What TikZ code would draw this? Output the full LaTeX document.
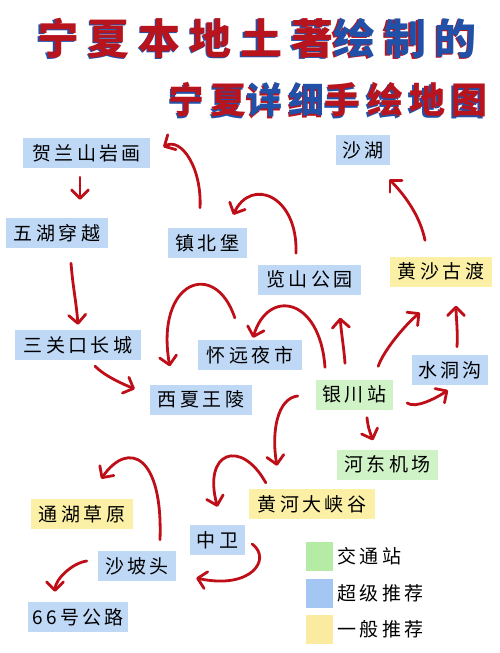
\documentclass[tikz,border=0pt]{standalone}
\usepackage{fontspec}
\usetikzlibrary{arrows.meta,calc}
\newfontfamily\cjk[LetterSpace=18]{Noto Sans CJK SC}
\newfontfamily\cjkt[LetterSpace=21]{Noto Sans CJK SC}
\newfontfamily\cjks[LetterSpace=17]{Noto Sans CJK SC}
\definecolor{boxblue}{HTML}{BED8F6}
\definecolor{boxgreen}{HTML}{CFF3C6}
\definecolor{boxyellow}{HTML}{FBF0A6}
\definecolor{lgreen}{HTML}{B4EBA5}
\definecolor{lblue}{HTML}{A3C7F2}
\definecolor{lyellow}{HTML}{FAEBA0}
\definecolor{arrred}{HTML}{BE0F19}
\definecolor{tred}{HTML}{B8141E}
\definecolor{tblue}{HTML}{2050A8}
\begin{document}
\begin{tikzpicture}[x=1pt,y=-1pt,
  place/.style={inner sep=0pt, minimum height=30pt, font=\cjk\fontsize{19}{19}\selectfont, text=black},
  bb/.style={place, fill=boxblue},
  gb/.style={place, fill=boxgreen},
  yb/.style={place, fill=boxyellow},
  legsq/.style={inner sep=0pt, minimum width=27pt, minimum height=29pt},
  legtxt/.style={inner sep=0pt, anchor=west, font=\cjk\fontsize{19}{19}\selectfont},
  arr/.style={draw=arrred, line width=2.8pt, line cap=round,
    -{Straight Barb[round,length=8.5pt,width=17pt]}},
  ttl/.style={inner sep=0pt, font=\cjkt\bfseries\fontsize{42}{42}\selectfont},
  tts/.style={inner sep=0pt, font=\cjks\bfseries\fontsize{36}{36}\selectfont}]
\useasboundingbox (0,0) rectangle (500,653);
% title shadows
\node[ttl] (t1s) at (255.5,39.5) {\color{tblue}宁夏本地土著\color{tred}绘制的};
\node[ttl] (t1) at (257,38) {\color{tred}宁夏本地土著\color{tblue}绘制的};
\node[tts] (t2s) at (326.5,101.5) {\color{tblue}宁夏\color{tred}详细\color{tblue}手绘地图};
\node[tts] (t2) at (328,100) {\color{tred}宁夏\color{tblue}详细\color{tred}手绘地图};
% nodes
\node[bb, minimum width=127pt] (hl) at (86.5,153) {贺兰山岩画};
\node[bb, minimum width=102pt] (wh) at (57,233) {五湖穿越};
\node[bb, minimum width=79pt] (zbb) at (207.5,243) {镇北堡};
\node[bb, minimum width=54pt] (sh) at (363,150) {沙湖};
\node[bb, minimum width=103pt] (ls) at (309.5,279.5) {览山公园};
\node[yb, minimum width=102pt] (hsgd) at (441,271.5) {黄沙古渡};
\node[bb, minimum width=126pt] (sgk) at (78,345) {三关口长城};
\node[bb, minimum width=104pt] (hy) at (250,355) {怀远夜市};
\node[bb, minimum width=102pt] (xx) at (201,399.5) {西夏王陵};
\node[bb, minimum width=76pt] (sdg) at (450,370) {水洞沟};
\node[gb, minimum width=77pt] (yc) at (354.5,394.5) {银川站};
\node[gb, minimum width=101pt] (hd) at (387.5,464.5) {河东机场};
\node[yb, minimum width=126pt] (hh) at (312,504) {黄河大峡谷};
\node[bb, minimum width=55pt] (zw) at (217.5,540) {中卫};
\node[yb, minimum width=102pt] (th) at (82,514) {通湖草原};
\node[bb, minimum width=78pt] (spt) at (137,566) {沙坡头};
\node[bb, minimum width=100pt] (r66) at (78,617) {66号公路};
% legend
\node[legsq, fill=lgreen] (lg1) at (319.5,556.5) {};
\node[legsq, fill=lblue] (lg2) at (319.5,593) {};
\node[legsq, fill=lyellow] (lg3) at (319.5,629.5) {};
\node[legtxt] (lt1) at (337,556.5) {交通站};
\node[legtxt] (lt2) at (337,593) {超级推荐};
\node[legtxt] (lt3) at (337,629.5) {一般推荐};
% arrows
\draw[arr] ($(hl.south)+(-6.5,9)$) -- ($(wh.north)+(23,-18)$);
\draw[arr] ($(wh.south)+(14,15)$) .. controls +(2,25) and +(-2,-25) .. ($(sgk.north)+(0,-5)$);
\draw[arr] ($(sgk.south)+(17,6)$) .. controls +(10,10) and +(-12,-5) .. ($(xx.west)+(-15,-10.5)$);
\draw[arr] ($(zbb.north)+(-7.5,-20)$) .. controls +(2,-40) and +(18,-10) .. ($(hl.east)+(13,-6)$);
\draw[arr] ($(ls.north)+(-13.5,-11)$) .. controls +(2,-58) and +(18,-38) .. ($(zbb.north east)+(-14,-13)$);
\draw[arr] ($(hsgd.north)+(-16,-16)$) .. controls +(-5,-25) and +(15,15) .. ($(sh.south)+(26,14)$);
\draw[arr] ($(yc.north)+(-29.5,-12)$) .. controls +(-5,-70) and +(15,-50) .. ($(hy.north)+(3,-2)$);
\draw[arr] ($(hy.north west)+(37,-22)$) .. controls +(-20,-60) and +(-15,-85) .. ($(xx.north west)+(20,-18)$);
\draw[arr] ($(yc.north)+(-9.5,-16)$) .. controls +(-1,-15) and +(1,15) .. ($(ls.south east)+(-21,23)$);
\draw[arr] ($(yc.north east)+(-15,-13)$) .. controls +(5,-15) and +(-15,12) .. ($(hsgd.south)+(-21,26)$);
\draw[arr] ($(sdg.north)+(7,-8)$) .. controls +(1,-15) and +(0,10) .. ($(hsgd.south)+(15,19)$);
\draw[arr] ($(yc.east)+(14,8.5)$) .. controls +(8,6) and +(-12,8) .. ($(sdg.south)+(-2,5)$);
\draw[arr] ($(yc.south)+(12.5,8)$) .. controls +(1,10) and +(-3,-8) .. ($(hd.north)+(-14.5,-9)$);
\draw[arr] ($(yc.west)+(-18,1.5)$) .. controls +(-20,2) and +(-6,-35) .. ($(hh.north)+(-35,-23)$);
\draw[arr] ($(hh.north west)+(17,-6)$) .. controls +(-25,-45) and +(-15,-55) .. ($(zw.north)+(0,-18)$);
\draw[arr] ($(zw.east)+(7,4)$) .. controls +(20,15) and +(55,12) .. ($(spt.east)+(20,12)$);
\draw[arr] ($(spt.north)+(23,-11)$) .. controls +(3,-85) and +(27,-39) .. ($(th.north east)+(-32,-20)$);
\draw[arr] ($(spt.west)+(-11,-5)$) .. controls +(-15,2) and +(0,-12) .. ($(r66.north)+(-23,-10)$);
\end{tikzpicture}
\end{document}
